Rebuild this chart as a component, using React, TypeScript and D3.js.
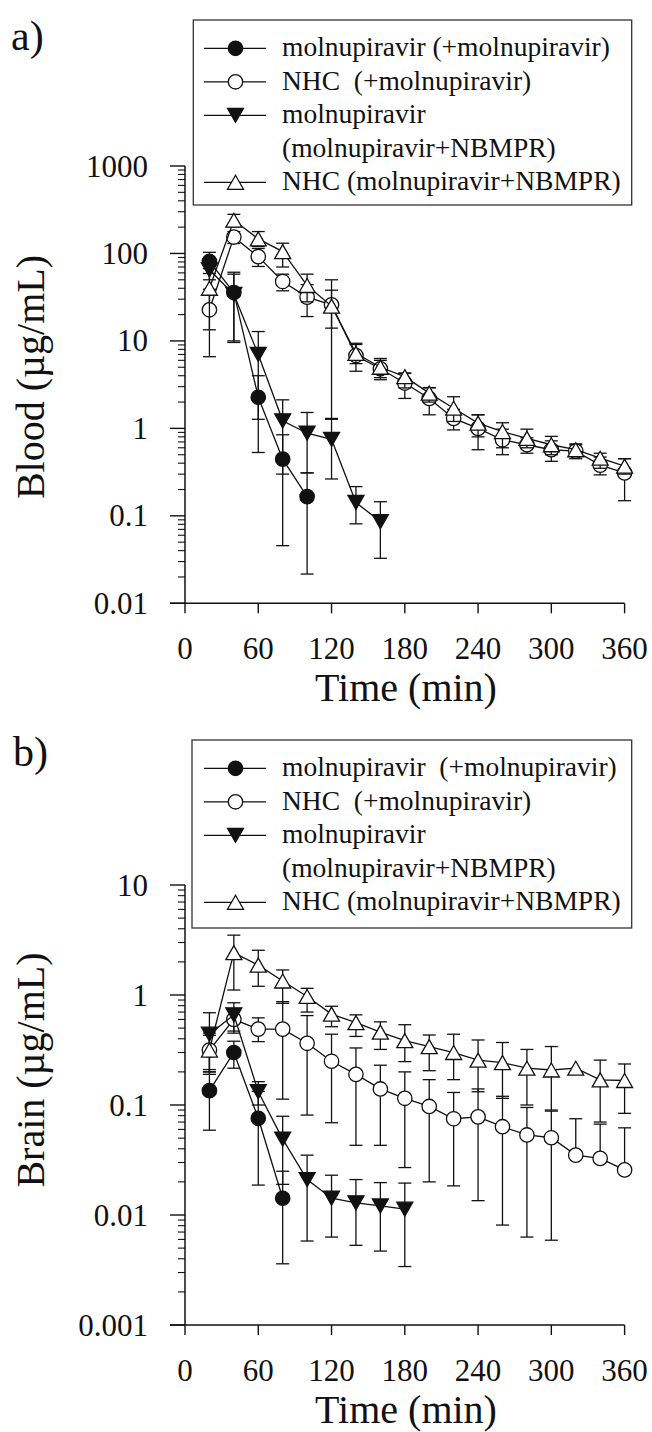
import React from 'react';
import * as d3 from 'd3';

// ---------- data ----------
const TIMES = [20, 40, 60, 80, 100, 120, 140, 160, 180, 200, 220, 240, 260, 280, 300, 320, 340, 360];
const X_TICKS = [0, 60, 120, 180, 240, 300, 360];

const BLOOD_Y_TICKS = [0.01, 0.1, 1, 10, 100, 1000];
const BLOOD_Y_LABELS = ['0.01', '0.1', '1', '10', '100', '1000'];
const BRAIN_Y_TICKS = [0.001, 0.01, 0.1, 1, 10];
const BRAIN_Y_LABELS = ['0.001', '0.01', '0.1', '1', '10'];

// Blood: molnupiravir (+molnupiravir)
const BLOOD_MOL = [81, 35.8, 2.27, 0.445, 0.166];
const BLOOD_MOL_LO = [59, 9.6, 0.53, 0.0456, 0.0216];
const BLOOD_MOL_HI = [103, 61, 4.0, 0.845, 0.31];
// Blood: NHC (+molnupiravir)
const BLOOD_NHC = [22.7, 154, 92, 47.8, 31.7, 25.9, 6.8, 4.8, 3.3, 2.2, 1.3, 1.0, 0.74, 0.65, 0.57, 0.55, 0.38, 0.31];
const BLOOD_NHC_LO = [6.6, 130, 71, 37.4, 19, 14, 4.5, 3.6, 2.2, 1.43, 0.96, 0.57, 0.5, 0.52, 0.42, 0.45, 0.294, 0.149];
const BLOOD_NHC_HI = [39, 178, 114, 58, 44, 38, 9.1, 6.0, 4.3, 2.9, 1.65, 1.43, 0.98, 0.78, 0.72, 0.65, 0.47, 0.45];
// Blood: molnupiravir (molnupiravir+NBMPR)
const BLOOD_MOLN = [65, 34, 7.0, 1.22, 0.88, 0.75, 0.142, 0.086];
const BLOOD_MOLN_LO = [50, 10, 1.27, 0.3, 0.31, 0.264, 0.081, 0.0327];
const BLOOD_MOLN_HI = [80, 58, 12.8, 2.12, 1.52, 1.27, 0.216, 0.145];
// Blood: NHC (molnupiravir+NBMPR)
const BLOOD_NHCN = [40, 240, 147, 105, 43, 25, 7.2, 5.0, 3.9, 2.53, 1.7, 1.15, 0.92, 0.77, 0.65, 0.57, 0.456, 0.37];
const BLOOD_NHCN_LO = [13.4, 200, 120, 70, 28, 1.3, 5.5, 3.8, 2.9, 2.0, 1.2, 0.8, 0.6, 0.6, 0.5, 0.48, 0.35, 0.3];
const BLOOD_NHCN_HI = [67, 280, 178, 131, 58, 50, 9.4, 6.3, 4.25, 2.93, 2.3, 1.43, 1.16, 0.98, 0.81, 0.665, 0.52, 0.45];

// Brain: molnupiravir (+molnupiravir)
const BRAIN_MOL = [0.135, 0.30, 0.0757, 0.0142];
const BRAIN_MOL_LO = [0.059, 0.216, 0.0187, 0.0036];
const BRAIN_MOL_HI = [0.21, 0.38, 0.133, 0.025];
// Brain: NHC (+molnupiravir)
const BRAIN_NHC = [0.316, 0.6, 0.49, 0.49, 0.364, 0.25, 0.19, 0.14, 0.115, 0.097, 0.075, 0.078, 0.0635, 0.0534, 0.0504, 0.035, 0.0327, 0.0257];
const BRAIN_NHC_LO = [0.2, 0.45, 0.377, 0.113, 0.081, 0.069, 0.043, 0.043, 0.027, 0.02, 0.0184, 0.0135, 0.0081, 0.0063, 0.0059, null, null, null];
const BRAIN_NHC_HI = [0.43, 0.75, 0.62, 0.87, 0.65, 0.44, 0.33, 0.23, 0.2, 0.17, 0.13, 0.14, 0.12, 0.095, 0.088, 0.075, 0.067, 0.062];
// Brain: molnupiravir (molnupiravir+NBMPR)
const BRAIN_MOLN = [0.44, 0.66, 0.132, 0.049, 0.021, 0.0142, 0.0129, 0.0121, 0.0113];
const BRAIN_MOLN_LO = [0.19, 0.47, 0.1, 0.019, 0.0058, 0.0063, 0.0053, 0.0047, 0.0034];
const BRAIN_MOLN_HI = [0.69, 0.85, 0.163, 0.079, 0.035, 0.023, 0.021, 0.0197, 0.0195];
// Brain: NHC (molnupiravir+NBMPR)
const BRAIN_NHCN = [0.316, 2.43, 1.87, 1.34, 0.97, 0.67, 0.56, 0.46, 0.385, 0.339, 0.30, 0.256, 0.243, 0.216, 0.208, 0.216, 0.169, 0.167];
const BRAIN_NHCN_LO = [0.2, 1.11, 1.2, 0.84, 0.7, 0.515, 0.42, 0.32, 0.248, 0.205, 0.17, 0.132, 0.115, 0.1, 0.09, null, 0.07, 0.084];
const BRAIN_NHCN_HI = [0.45, 3.5, 2.55, 1.69, 1.15, 0.79, 0.66, 0.57, 0.537, 0.433, 0.44, 0.39, 0.37, 0.32, 0.34, null, 0.256, 0.236];

const LEGEND_A = ['molnupiravir (+molnupiravir)', 'NHC  (+molnupiravir)', 'molnupiravir', '(molnupiravir+NBMPR)', 'NHC (molnupiravir+NBMPR)'];
const LEGEND_B = ['molnupiravir  (+molnupiravir)', 'NHC  (+molnupiravir)', 'molnupiravir', '(molnupiravir+NBMPR)', 'NHC (molnupiravir+NBMPR)'];

// ---------- styling ----------
const FONT = "'Liberation Serif', 'Times New Roman', Times, serif";
const INK = '#111';

type Marker = 'circle' | 'down' | 'up';
interface Series { v: number[]; lo: (number | null)[]; hi: (number | null)[]; marker: Marker; filled: boolean; }

const MARKERS: { marker: Marker; filled: boolean }[] = [
  { marker: 'circle', filled: true },
  { marker: 'circle', filled: false },
  { marker: 'down', filled: true },
  { marker: 'up', filled: false },
];
const LEGEND_ROW_MARKER = [0, 1, 2, -1, 3];

function MarkerShape({ m, filled, cx, cy }: { m: Marker; filled: boolean; cx: number; cy: number }) {
  const fill = filled ? INK : '#fff';
  if (m === 'circle') return <circle cx={cx} cy={cy} r={7.2} fill={fill} stroke={INK} strokeWidth={1.3} />;
  const hw = 8, hh = 7;
  const pts = m === 'up'
    ? [[cx, cy - hh], [cx + hw, cy + hh], [cx - hw, cy + hh]]
    : [[cx, cy + hh], [cx + hw, cy - hh], [cx - hw, cy - hh]];
  return <polygon points={pts.map(p => p.join(',')).join(' ')} fill={fill} stroke={INK} strokeWidth={1.3} strokeLinejoin="miter" />;
}

interface PanelCfg {
  label: string; labelX: number; labelY: number;
  yTitle: string; yTitleY: number;
  yDomain: [number, number]; yBottom: number; yTop: number;
  yTicks: number[]; yLabels: string[];
  series: Series[];
  legend: string[]; legendTop: number; legendBottom: number; legendLeft: number;
}

function Panel({ p }: { p: PanelCfg }) {
  const axisX = 185;
  const x = d3.scaleLinear().domain([0, 360]).range([axisX, 624.6]);
  const y = d3.scaleLog().domain(p.yDomain).range([p.yBottom, p.yTop]);
  const minor = y.ticks().filter(t => Math.abs(Math.log10(t) - Math.round(Math.log10(t))) > 1e-6);
  const cap = 6.5;

  return (
    <g>
      {/* panel label */}
      <text x={p.labelX} y={p.labelY} fontSize={42} fontFamily={FONT} fill={INK}>{p.label}</text>

      {/* y axis */}
      <line x1={axisX} x2={axisX} y1={p.yBottom} y2={p.yTop} stroke={INK} strokeWidth={1.5} />
      {p.yTicks.map((t, i) => (
        <g key={'ym' + i}>
          <line x1={axisX - 15} x2={axisX} y1={y(t)} y2={y(t)} stroke={INK} strokeWidth={1.4} />
          <text x={148} y={y(t)} dy="0.34em" textAnchor="end" fontSize={31} fontFamily={FONT} fill={INK}>{p.yLabels[i]}</text>
        </g>
      ))}
      {minor.map((t, i) => (
        <line key={'yn' + i} x1={axisX - 7} x2={axisX} y1={y(t)} y2={y(t)} stroke={INK} strokeWidth={1.1} />
      ))}
      <text transform={`translate(44,${p.yTitleY}) rotate(-90)`} textAnchor="middle" fontSize={40} fontFamily={FONT} fill={INK}>{p.yTitle}</text>

      {/* x axis */}
      <line x1={axisX - 15} x2={x(360)} y1={p.yBottom} y2={p.yBottom} stroke={INK} strokeWidth={1.5} />
      {X_TICKS.map((t, i) => (
        <g key={'xt' + i}>
          <line x1={x(t)} x2={x(t)} y1={p.yBottom} y2={p.yBottom + 10} stroke={INK} strokeWidth={1.4} />
          <text x={x(t)} y={p.yBottom + 55.5} textAnchor="middle" fontSize={31} fontFamily={FONT} fill={INK}>{t}</text>
        </g>
      ))}
      <text x={406} y={p.yBottom + 98} textAnchor="middle" fontSize={40} fontFamily={FONT} fill={INK}>Time (min)</text>

      {/* series */}
      {p.series.map((s, si) => {
        const ts = TIMES.slice(0, s.v.length);
        const line = d3.line<number>().x((_, i) => x(ts[i])).y(d => y(d));
        return (
          <g key={'s' + si}>
            {s.v.map((v, i) => {
              const cx = x(ts[i]);
              const cy = y(v);
              const lo = s.lo[i];
              const hi = s.hi[i];
              return (
                <g key={'e' + i} stroke={INK} strokeWidth={1.3}>
                  {lo != null && lo > 0 && lo < v && (
                    <>
                      <line x1={cx} x2={cx} y1={cy} y2={y(lo)} />
                      <line x1={cx - cap} x2={cx + cap} y1={y(lo)} y2={y(lo)} />
                    </>
                  )}
                  {hi != null && hi > v && (
                    <>
                      <line x1={cx} x2={cx} y1={cy} y2={y(hi)} />
                      <line x1={cx - cap} x2={cx + cap} y1={y(hi)} y2={y(hi)} />
                    </>
                  )}
                </g>
              );
            })}
            <path d={line(s.v) || ''} fill="none" stroke={INK} strokeWidth={1.3} />
            {s.v.map((v, i) => (
              <MarkerShape key={'m' + i} m={s.marker} filled={s.filled} cx={x(ts[i])} cy={y(v)} />
            ))}
          </g>
        );
      })}

      {/* legend */}
      <rect x={p.legendLeft} y={p.legendTop} width={631.7 - p.legendLeft} height={p.legendBottom - p.legendTop} fill="#fff" stroke="#333" strokeWidth={1.3} />
      {p.legend.map((txt, r) => {
        const cy = p.legendTop + 28.3 + r * 33.5;
        const mi = LEGEND_ROW_MARKER[r];
        return (
          <g key={'l' + r}>
            {mi >= 0 && (
              <>
                <line x1={204} x2={266} y1={cy} y2={cy} stroke={INK} strokeWidth={1.3} />
                <MarkerShape m={MARKERS[mi].marker} filled={MARKERS[mi].filled} cx={235.5} cy={cy} />
              </>
            )}
            <text x={282} y={cy + 8} fontSize={27.5} fontFamily={FONT} fill={INK} style={{ whiteSpace: 'pre' }}>{txt}</text>
          </g>
        );
      })}
    </g>
  );
}

function mk(v: number[], lo: (number | null)[], hi: (number | null)[], k: number): Series {
  return { v, lo, hi, marker: MARKERS[k].marker, filled: MARKERS[k].filled };
}

export default function App() {
  const panelA: PanelCfg = {
    label: 'a)', labelX: 11, labelY: 50,
    yTitle: 'Blood (µg/mL)', yTitleY: 377,
    yDomain: [0.01, 1000], yBottom: 603.3, yTop: 166,
    yTicks: BLOOD_Y_TICKS, yLabels: BLOOD_Y_LABELS,
    series: [
      mk(BLOOD_MOL, BLOOD_MOL_LO, BLOOD_MOL_HI, 0),
      mk(BLOOD_NHC, BLOOD_NHC_LO, BLOOD_NHC_HI, 1),
      mk(BLOOD_MOLN, BLOOD_MOLN_LO, BLOOD_MOLN_HI, 2),
      mk(BLOOD_NHCN, BLOOD_NHCN_LO, BLOOD_NHCN_HI, 3),
    ],
    legend: LEGEND_A, legendTop: 20, legendBottom: 205, legendLeft: 193.3,
  };
  const panelB: PanelCfg = {
    label: 'b)', labelX: 13, labelY: 766,
    yTitle: 'Brain (µg/mL)', yTitleY: 1070,
    yDomain: [0.001, 10], yBottom: 1325, yTop: 885,
    yTicks: BRAIN_Y_TICKS, yLabels: BRAIN_Y_LABELS,
    series: [
      mk(BRAIN_MOL, BRAIN_MOL_LO, BRAIN_MOL_HI, 0),
      mk(BRAIN_NHC, BRAIN_NHC_LO, BRAIN_NHC_HI, 1),
      mk(BRAIN_MOLN, BRAIN_MOLN_LO, BRAIN_MOLN_HI, 2),
      mk(BRAIN_NHCN, BRAIN_NHCN_LO, BRAIN_NHCN_HI, 3),
    ],
    legend: LEGEND_B, legendTop: 740, legendBottom: 928, legendLeft: 192,
  };
  return (
    <svg width={652} height={1432} viewBox="0 0 652 1432" style={{ position: 'absolute', left: 0, top: 0, background: '#fff' }}>
      <rect x={0} y={0} width={652} height={1432} fill="#fff" />
      <Panel p={panelA} />
      <Panel p={panelB} />
    </svg>
  );
}
